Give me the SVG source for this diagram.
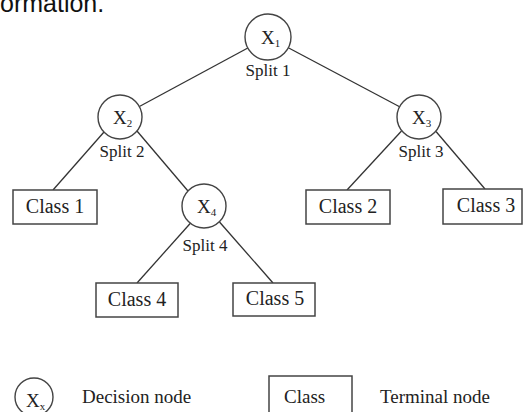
<svg xmlns="http://www.w3.org/2000/svg" width="527" height="412" viewBox="0 0 527 412">
<style>
.bg{fill:#fff}
.edge{stroke:#333;stroke-width:1.3;fill:none}
.dn{fill:#fff;stroke:#444;stroke-width:1.4}
.tn{fill:#fff;stroke:#444;stroke-width:1.5}
.t{font-family:"Liberation Serif",serif;fill:#222}
.lbl{font-size:20px;text-anchor:middle}
.sp{font-size:17px;text-anchor:middle}
.x{font-size:19px}
.sub{font-size:11px}
.lg{font-size:19px}
.head{font-family:"Liberation Sans",Arial,sans-serif;font-size:25px;fill:#111}
</style>
<rect class="bg" x="0" y="0" width="527" height="412"/>
<text class="head" x="0" y="12">ormation.</text>
<g id="connectors">
<line class="edge" x1="247.8" y1="48" x2="139.4" y2="106.5"/>
<line class="edge" x1="288.3" y1="47.8" x2="399.6" y2="106.7"/>
<line class="edge" x1="104" y1="132" x2="53" y2="190"/>
<line class="edge" x1="137" y1="131" x2="188" y2="191"/>
<line class="edge" x1="401.5" y1="131" x2="347" y2="190"/>
<line class="edge" x1="436" y1="131.5" x2="485" y2="189"/>
<line class="edge" x1="190.6" y1="223" x2="137" y2="283"/>
<line class="edge" x1="219.5" y1="222" x2="273" y2="283"/>
</g>
<g id="x1">
<circle class="dn" cx="268" cy="37" r="23"/>
<text class="t x" x="261" y="44">X<tspan class="sub" dy="3">1</tspan></text>
<text class="t sp" x="268" y="76">Split 1</text>
</g>
<g id="x2">
<circle class="dn" cx="120" cy="117" r="22"/>
<text class="t x" x="113" y="124">X<tspan class="sub" dy="3">2</tspan></text>
<text class="t sp" x="122" y="157">Split 2</text>
</g>
<g id="x3">
<circle class="dn" cx="419" cy="117" r="22"/>
<text class="t x" x="412" y="124">X<tspan class="sub" dy="3">3</tspan></text>
<text class="t sp" x="421" y="157">Split 3</text>
</g>
<g id="x4">
<circle class="dn" cx="204" cy="206" r="22"/>
<text class="t x" x="197" y="213">X<tspan class="sub" dy="3">4</tspan></text>
<text class="t sp" x="205" y="251">Split 4</text>
</g>
<g id="class1">
<rect class="tn" x="13" y="190" width="84" height="34"/>
<text class="t lbl" x="55" y="213">Class 1</text>
</g>
<g id="class2">
<rect class="tn" x="306" y="190" width="84" height="34"/>
<text class="t lbl" x="348" y="213">Class 2</text>
</g>
<g id="class3">
<rect class="tn" x="443" y="189" width="79" height="35"/>
<text class="t lbl" x="486" y="212">Class 3</text>
</g>
<g id="class4">
<rect class="tn" x="96" y="283" width="82" height="34"/>
<text class="t lbl" x="137" y="306">Class 4</text>
</g>
<g id="class5">
<rect class="tn" x="233" y="283" width="82" height="33"/>
<text class="t lbl" x="275" y="305">Class 5</text>
</g>
<g id="legend-decision">
<circle class="dn" cx="34" cy="397" r="19"/>
<text class="t x" x="26" y="407">X<tspan class="sub" dy="3">x</tspan></text>
<text class="t lg" x="82" y="403">Decision node</text>
</g>
<g id="legend-terminal">
<rect class="tn" x="269" y="376" width="83" height="50"/>
<text class="t lg" x="284" y="403">Class</text>
<text class="t lg" x="380" y="403">Terminal node</text>
</g>
</svg>
